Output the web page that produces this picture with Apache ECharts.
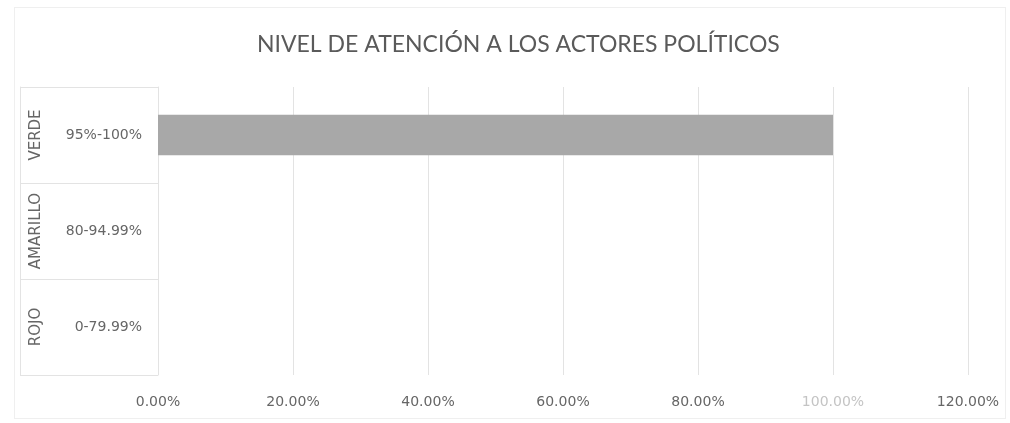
<!DOCTYPE html>
<html>
<head>
<meta charset="utf-8">
<script src="https://cdn.jsdelivr.net/npm/echarts@6/dist/echarts.min.js"></script>
<style>
  html, body { margin: 0; padding: 0; background: #fff; }
  #wrap { position: relative; width: 1010px; height: 423px; }
  #chart { width: 1010px; height: 423px; }
  #marco {
    position: absolute; left: 14px; top: 7px; width: 990px; height: 410px;
    border: 1px solid #efefef; pointer-events: none;
  }
</style>
</head>
<body>
<div id="wrap">
  <div id="chart"></div>
  <div id="marco"></div>
</div>
<script>
// rangos (eje interior) y niveles (eje exterior)
const rangos = ['95%-100%', '80-94.99%', '0-79.99%']
const niveles = ['VERDE', 'AMARILLO', 'ROJO']
const valores = [1.0, 0, 0]
const ticksX = [0, 0.2, 0.4, 0.6, 0.8, 1.0, 1.2]

const gris = '#666666'
const lineaGris = '#e3e3e3'
const fuente = 'DejaVu Sans'

const chart = echarts.init(document.getElementById('chart'))

const option = {
  backgroundColor: '#fff',
  title: {
    text: 'NIVEL DE ATENCIÓN A LOS ACTORES POLÍTICOS',
    left: 252,
    top: 28,
    textStyle: {
      fontFamily: 'Lato',
      fontWeight: 'normal',
      fontSize: 23,
      color: '#5a5a5a'
    }
  },
  grid: {
    left: 158,
    right: 42,
    top: 87,
    bottom: 48
  },
  xAxis: {
    type: 'value',
    min: ticksX[0],
    max: ticksX[ticksX.length - 1],
    interval: 0.2,
    axisLine: { show: false },
    axisTick: { show: false },
    splitLine: { lineStyle: { color: lineaGris, width: 1 } },
    axisLabel: {
      margin: 20,
      fontFamily: fuente,
      fontSize: 14,
      color: gris,
      formatter: (v) => {
        const t = (v * 100).toFixed(2) + '%'
        // la etiqueta de 100% sale desvaída en el original
        return Math.abs(v - 1) < 1e-9 ? '{tenue|' + t + '}' : t
      },
      rich: {
        tenue: { fontFamily: fuente, fontSize: 14, color: '#c4c4c4' }
      }
    }
  },
  yAxis: [
    {
      type: 'category',
      data: rangos,
      inverse: true,
      axisLine: { show: true, lineStyle: { color: lineaGris } },
      axisTick: { show: false },
      axisLabel: {
        interval: 0,
        margin: 16,
        fontFamily: fuente,
        fontSize: 14,
        color: gris
      }
    },
    {
      type: 'category',
      data: niveles,
      inverse: true,
      position: 'left',
      offset: 138,
      axisLine: { show: true, lineStyle: { color: lineaGris } },
      axisTick: {
        show: true,
        interval: 0,
        inside: true,
        length: 138,
        lineStyle: { color: lineaGris }
      },
      axisLabel: {
        interval: 0,
        inside: true,
        rotate: 90,
        margin: 9,
        fontFamily: fuente,
        fontSize: 15,
        color: gris
      }
    }
  ],
  series: [
    {
      type: 'bar',
      yAxisIndex: 0,
      data: valores,
      barWidth: '42%',
      itemStyle: { color: '#a8a8a8' },
      silent: true
    }
  ]
}

chart.setOption(option)
</script>
</body>
</html>
